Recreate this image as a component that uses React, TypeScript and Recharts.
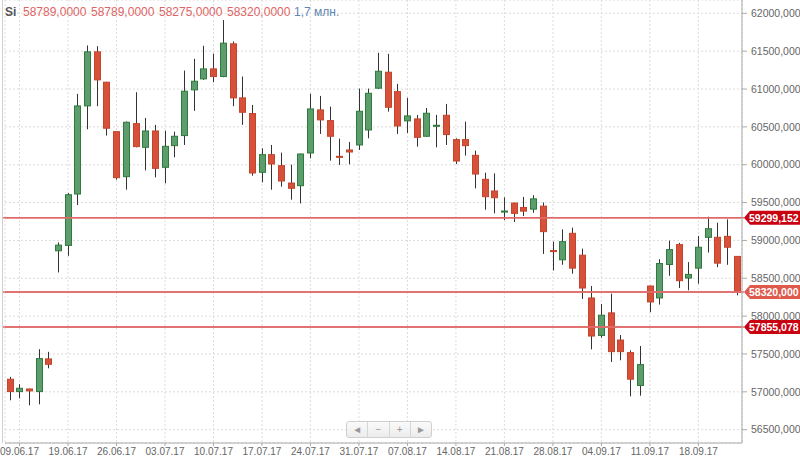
import React from 'react';
import { ComposedChart, Bar, XAxis, YAxis, CartesianGrid, ReferenceLine } from 'recharts';

const opens = [57166, 57003, 57038, 57003, 57435, 58863, 58934, 59613, 60777, 61491, 61090, 60437, 59842, 60543, 60230, 60446, 59966, 60252, 60385, 60989, 61134, 61266, 61165, 61597, 60883, 60676, 59900, 60133, 59988, 59758, 59723, 60155, 60724, 60583, 60111, 60195, 60261, 60459, 61011, 61222, 60966, 60579, 60605, 60376, 60508, 60653, 60332, 60332, 60124, 59807, 59653, 59375, 59494, 59435, 59413, 59453, 58866, 58744, 59094, 58805, 58240, 57745, 58043, 57684, 57518, 57084, 58398, 58240, 58682, 58945, 58503, 58634, 59041, 59041, 59054, 58789];
const highs = [57197, 57100, 57040, 57563, 57528, 58974, 59626, 60936, 61575, 61566, 61095, 60440, 60570, 60958, 60618, 60526, 60451, 60437, 61244, 61399, 61571, 61465, 61911, 61628, 61165, 60790, 60217, 60261, 60160, 60001, 60145, 60936, 60909, 60768, 60345, 60301, 61006, 61006, 61478, 61465, 61068, 60883, 60658, 60750, 60658, 60803, 60349, 60570, 60186, 59895, 59886, 59569, 59497, 59575, 59597, 59501, 58984, 59146, 59168, 58892, 58398, 58161, 58297, 57750, 57548, 57605, 58400, 58752, 58997, 58967, 58713, 59059, 59313, 59234, 59278, 58789];
const lows = [56888, 56915, 56822, 56835, 57311, 58577, 58797, 59467, 60468, 60773, 60385, 59803, 59670, 60230, 59926, 59833, 59754, 60098, 60261, 60711, 61121, 61090, 61156, 60773, 60526, 59855, 59767, 59670, 59710, 59538, 59489, 60085, 60407, 60054, 59997, 60005, 60195, 60349, 61002, 60702, 60407, 60420, 60239, 60371, 60230, 60261, 60010, 60120, 59688, 59406, 59357, 59269, 59243, 59321, 59365, 58822, 58603, 58678, 58560, 58227, 57561, 57715, 57395, 57417, 56940, 56949, 58052, 58152, 58533, 58371, 58341, 58428, 58840, 58647, 58678, 58275];
const closes = [57003, 57047, 57012, 57439, 57364, 58938, 59604, 60777, 61491, 61121, 60482, 59829, 60561, 60239, 60446, 59952, 60243, 60376, 60971, 61103, 61266, 61165, 61606, 60883, 60693, 59891, 60133, 60010, 59785, 59688, 60142, 60737, 60592, 60376, 60098, 60168, 60706, 60944, 61235, 60759, 60512, 60645, 60362, 60680, 60521, 60398, 60049, 60252, 59877, 59578, 59564, 59388, 59357, 59387, 59549, 59116, 58853, 58984, 58634, 58371, 57737, 58012, 57531, 57531, 57167, 57360, 58187, 58695, 58879, 58468, 58551, 58910, 59155, 58700, 58910, 58320];

const tickIdx = [1, 6, 11, 16, 21, 26, 31, 36, 41, 46, 51, 56, 61, 66, 71];
const tickLabels = ['09.06.17', '19.06.17', '26.06.17', '03.07.17', '10.07.17', '17.07.17', '24.07.17', '31.07.17', '07.08.17', '14.08.17', '21.08.17', '28.08.17', '04.09.17', '11.09.17', '18.09.17'];
const yTicks = [56500, 57000, 57500, 58000, 58500, 59000, 59500, 60000, 60500, 61000, 61500, 62000];
const levelValues = [59299.152, 58320, 57855.078];
const levelLabels = ['59299,152', '58320,000', '57855,078'];
const headerTicker = 'Si';
const headerQuotes = ['58789,0000', '58789,0000', '58275,0000', '58320,0000'];
const headerVolume = '1,7 млн.';

const data = opens.map((o, i) => ({ i, open: o, high: highs[i], low: lows[i], close: closes[i] }));

const FONT = '"Liberation Sans", Arial, sans-serif';

const Candle = (props: any) => {
  const { x, y, width, height, payload } = props;
  if (!payload) return null;
  const top = Math.min(y, y + height);
  const h = Math.abs(height);
  const { open, close, high, low } = payload;
  const range = high - low;
  const py = (v: number) => top + (range === 0 ? 0 : ((high - v) / range) * h);
  const up = close >= open;
  const cx = Math.round(x + width / 2) + 0.5;
  const bTop = py(Math.max(open, close));
  const bBot = py(Math.min(open, close));
  return (
    <g>
      <line x1={cx} x2={cx} y1={top} y2={top + h} stroke="#333" strokeWidth={1} />
      <rect
        x={cx - 3}
        y={bTop}
        width={6}
        height={Math.max(1, bBot - bTop)}
        fill={up ? '#5d9c6d' : '#d7513a'}
        stroke={up ? '#2f7b3c' : '#c4452c'}
        strokeWidth={1}
      />
    </g>
  );
};

const Badge = (props: any) => {
  const { viewBox, text, color } = props;
  if (!viewBox) return null;
  const yy = viewBox.y;
  const xEnd = viewBox.x + viewBox.width;
  const x0 = xEnd + 2;
  const pts = `${x0},${yy} ${x0 + 6},${yy - 7} 800,${yy - 7} 800,${yy + 7} ${x0 + 6},${yy + 7}`;
  return (
    <g>
      <line x1={3} x2={x0} y1={yy} y2={yy} stroke="#e06a6a" strokeWidth={1.5} />
      <polygon points={pts} fill={color} />
      <text x={x0 + 5} y={yy} dy="0.36em" fill="#fff" fontSize={10.5} fontWeight="bold" fontFamily={FONT}>
        {text}
      </text>
    </g>
  );
};

const levelColors = ['#c9000f', '#de5a4c', '#c9000f'];
const quoteLeft = [23, 91, 159, 227];

export default function App() {
  return (
    <div style={{ position: 'absolute', left: 0, top: 0, width: 800, height: 460, background: '#fff', overflow: 'hidden' }}>
      <div style={{ position: 'absolute', left: 2, top: 0, width: 1, height: 443, background: '#cfcfcf' }} />
      <ComposedChart
        width={800}
        height={460}
        data={data}
        margin={{ top: 0, right: 0, bottom: 0, left: 5 }}
        barCategoryGap={0}
      >
        <CartesianGrid stroke="#dcdcdc" strokeDasharray="2 2" />
        <XAxis
          dataKey="i"
          type="category"
          ticks={tickIdx}
          interval={0}
          tickFormatter={(v: any) => tickLabels[tickIdx.indexOf(Number(v))] ?? ''}
          height={17}
          tickSize={3}
          tickMargin={2}
          stroke="#aaa"
          tick={{ fill: '#666', fontSize: 10, fontFamily: FONT }}
        />
        <YAxis
          orientation="right"
          width={58}
          domain={[56324, 62176]}
          allowDataOverflow
          ticks={yTicks}
          interval={0}
          tickFormatter={(v: any) => `${v},0000`}
          tickSize={5}
          tickMargin={4}
          stroke="#aaa"
          tick={{ fill: '#666', fontSize: 10.5, fontFamily: FONT, textAnchor: 'start' }}
        />
        <Bar
          dataKey={(d: any) => [d.low, d.high]}
          shape={<Candle />}
          barSize={7}
          isAnimationActive={false}
        />
        {levelValues.map((v, k) => (
          <ReferenceLine
            key={k}
            y={v}
            stroke="#e06a6a"
            strokeWidth={1.5}
            ifOverflow="visible"
            label={<Badge text={levelLabels[k]} color={levelColors[k]} />}
          />
        ))}
      </ComposedChart>
      <div style={{ position: 'absolute', left: 0, top: 4, width: 400, height: 16, fontFamily: FONT, fontSize: 12, whiteSpace: 'nowrap', lineHeight: '16px' }}>
        <span style={{ position: 'absolute', left: 5, color: '#555', fontWeight: 'bold' }}>{headerTicker}</span>
        {headerQuotes.map((q, k) => (
          <span key={k} style={{ position: 'absolute', left: quoteLeft[k], color: '#e06464' }}>{q}</span>
        ))}
        <span style={{ position: 'absolute', left: 294, color: '#5f86b0' }}>{headerVolume}</span>
      </div>
      <div
        style={{
          position: 'absolute', left: 346, top: 421, width: 84, height: 15,
          border: '1px solid #cfcfcf', borderRadius: 3,
          background: 'linear-gradient(#fafafa, #ececec)', display: 'flex',
          fontFamily: FONT, fontSize: 10, color: '#999',
        }}
      >
        {['◄', '−', '+', '►'].map((s, k) => (
          <div key={k} style={{ flex: 1, textAlign: 'center', lineHeight: '15px', borderLeft: k ? '1px solid #d6d6d6' : 'none' }}>{s}</div>
        ))}
      </div>
    </div>
  );
}
